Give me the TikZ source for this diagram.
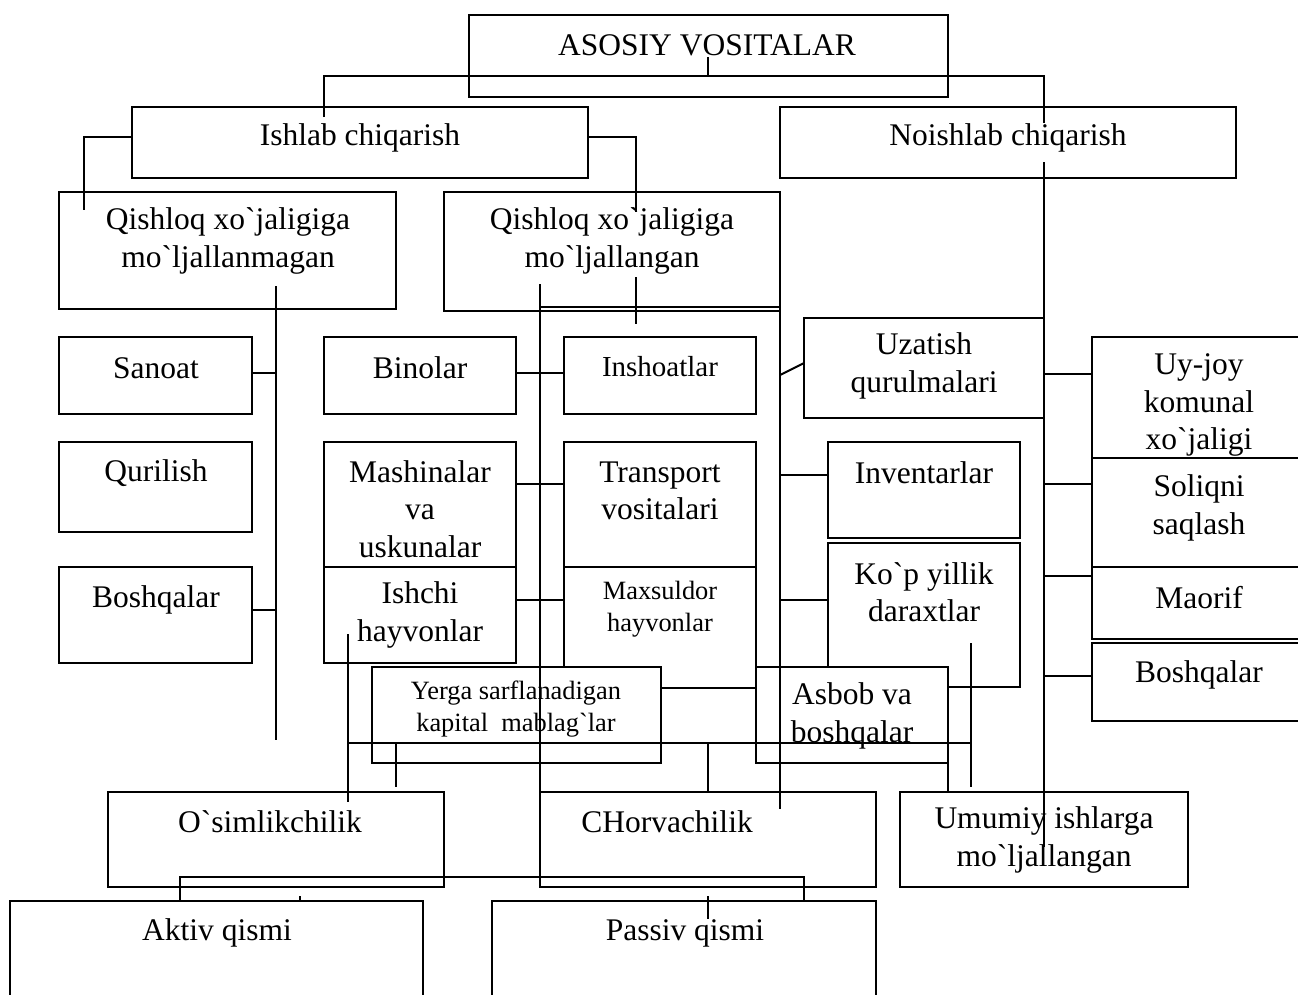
\documentclass[tikz,border=0pt]{standalone}
\usepackage{fontspec}
\setmainfont{Liberation Serif}[Ligatures=TeXOff]
\newcommand\bx[6][]{\node[bxs,#1,minimum width={#5pt-#3pt},minimum height={#6pt-#4pt}] (#2) at ({(#3+#5)/2},{(#4+#6)/2}) {};}
\begin{document}
\begin{tikzpicture}[x=1pt,y=-1pt,
  bxs/.style={draw,line width=1.4pt,inner sep=0pt,outer sep=0pt,rectangle},
  wbx/.style={fill=white},
  ln/.style={line width=2pt},
  tx/.style={align=center,inner sep=0pt,font=\fontsize{31.5}{37.5}\selectfont},
  txm/.style={tx,font=\fontsize{29}{34}\selectfont},
  txs/.style={tx,font=\fontsize{26.4}{32}\selectfont}]
\useasboundingbox (0,0) rectangle (1298,994);
\clip (0,0) rectangle (1298,994);
% boxes
\bx{asosiy}{469}{15}{948}{97}
\bx{ish}{132}{107}{588}{178}
\bx{noish}{780}{107}{1236}{178}
\bx{qxm}{59}{192}{396}{309}
\bx{qxl}{444}{192}{780}{311}
\bx{sanoat}{59}{337}{252}{414}
\bx{qur}{59}{442}{252}{532}
\bx{boshL}{59}{567}{252}{663}
\bx{bino}{324}{337}{516}{414}
\bx{mash}{324}{442}{516}{567}
\bx{ishchi}{324}{567}{516}{663}
\bx{insh}{564}{337}{756}{414}
\bx{trans}{564}{442}{756}{567}
\bx{maxs}{564}{567}{756}{688}
\bx{uzat}{804}{318}{1044}{418}
\bx{inv}{828}{442}{1020}{538}
\bx{kop}{828}{543}{1020}{687}
\bx{uy}{1092}{337}{1312}{458}
\bx{sol}{1092}{458}{1312}{567}
\bx{mao}{1092}{567}{1312}{639}
\bx{boshR}{1092}{643}{1312}{721}
\bx[wbx]{yerga}{372}{667}{661}{763}
\bx[wbx]{asbob}{756}{667}{948}{763}
\bx{osim}{108}{792}{444}{887}
\bx{chor}{540}{792}{876}{887}
\bx{umum}{900}{792}{1188}{887}
\bx{aktiv}{10}{901}{423}{1012}
\bx{passiv}{492}{901}{876}{1012}
% texts
\node[tx] (tAsosiy) at (707,45) {ASOSIY VOSITALAR};
\node[tx] (tIsh) at (360,138) {Ishlab chiqarish};
\node[tx] (tNoish) at (1008,138) {Noishlab chiqarish};
\node[tx] (tQxm) at (228,241) {Qishloq xo`jaligiga\\mo`ljallanmagan};
\node[tx] (tQxl) at (612,241) {Qishloq xo`jaligiga\\mo`ljallangan};
\node[tx] (tSanoat) at (156,368) {Sanoat};
\node[tx] (tQur) at (156,473) {Qurilish};
\node[tx] (tBoshL) at (156,600) {Boshqalar};
\node[tx] (tBino) at (420,368) {Binolar};
\node[tx] (tMash) at (420,509) {Mashinalar\\va\\uskunalar};
\node[tx] (tIshchi) at (420,615) {Ishchi\\hayvonlar};
\node[txm] (tInsh) at (660,367) {Inshoatlar};
\node[tx] (tTrans) at (660,491) {Transport\\vositalari};
\node[txs] (tMaxs) at (660,609) {Maxsuldor\\hayvonlar};
\node[tx] (tUzat) at (924,366) {Uzatish\\qurulmalari};
\node[tx] (tInv) at (924,473) {Inventarlar};
\node[tx] (tKop) at (924,592) {Ko`p yillik\\daraxtlar};
\node[tx] (tUy) at (1199,405) {Uy-joy\\komunal\\xo`jaligi};
\node[tx] (tSol) at (1199,508) {Soliqni\\saqlash};
\node[tx] (tMao) at (1199,598) {Maorif};
\node[tx] (tBoshR) at (1199,675) {Boshqalar};
\node[txs] (tYerga) at (516,709) {Yerga sarflanadigan\\kapital\ \ mablag`lar};
\node[tx] (tAsbob) at (852,716) {Asbob va\\boshqalar};
\node[tx] (tOsim) at (270,822) {O`simlikchilik};
\node[tx] (tChor) at (667,822) {CHorvachilik};
\node[tx] (tUmum) at (1044,840) {Umumiy ishlarga\\mo`ljallangan};
\node[tx] (tAktiv) at (217,933) {Aktiv qismi};
\node[tx] (tPassiv) at (685,933) {Passiv qismi};
% connectors
\draw[ln] (324,117) -- (324,76) -- (1044,76) -- (1044,123);
\draw[ln] (708,57) -- (708,76);
\draw[ln] (ish.west |- 0,137) -- (84,137) -- (84,210);
\draw[ln] (ish.east |- 0,137) -- (636,137) -- (636,212);
\draw[ln] (1044,162) -- (1044,847);
\draw[ln] (276,286) -- (276,740);
\draw[ln] (sanoat.east |- 0,373) -- (276,373);
\draw[ln] (boshL.east |- 0,610) -- (276,610);
\draw[ln] (540,284) -- (540,887);
\draw[ln] (540,307) -- (780,307);
\draw[ln] (636,277) -- (636,324);
\draw[ln] (780,192) -- (780,809);
\draw[ln] (bino.east |- 0,373) -- (insh.west |- 0,373);
\draw[ln] (mash.east |- 0,484) -- (trans.west |- 0,484);
\draw[ln] (ishchi.east |- 0,600) -- (maxs.west |- 0,600);
\draw[ln] (780,375) -- (uzat.west |- 0,363);
\draw[ln] (780,475) -- (inv.west |- 0,475);
\draw[ln] (780,600) -- (kop.west |- 0,600);
\draw[ln] (1044,374) -- (uy.west |- 0,374);
\draw[ln] (1044,484) -- (sol.west |- 0,484);
\draw[ln] (1044,576) -- (mao.west |- 0,576);
\draw[ln] (1044,676) -- (boshR.west |- 0,676);
\draw[ln] (348,634) -- (348,802);
\draw[ln] (348,743) -- (972,743);
\draw[ln] (971,643) -- (971,787);
\draw[ln] (396,743) -- (396,787);
\draw[ln] (708,743) -- (chor.north -| 708,0);
\draw[ln] (asbob.south east) -- (umum.north -| 948,0);
\draw[ln] (aktiv.north -| 180,0) -- (180,877) -- (804,877) -- (passiv.north -| 804,0);
\draw[ln] (300,896) -- (aktiv.north -| 300,0);
\draw[ln] (708,896) -- (708,919);
\end{tikzpicture}
\end{document}
